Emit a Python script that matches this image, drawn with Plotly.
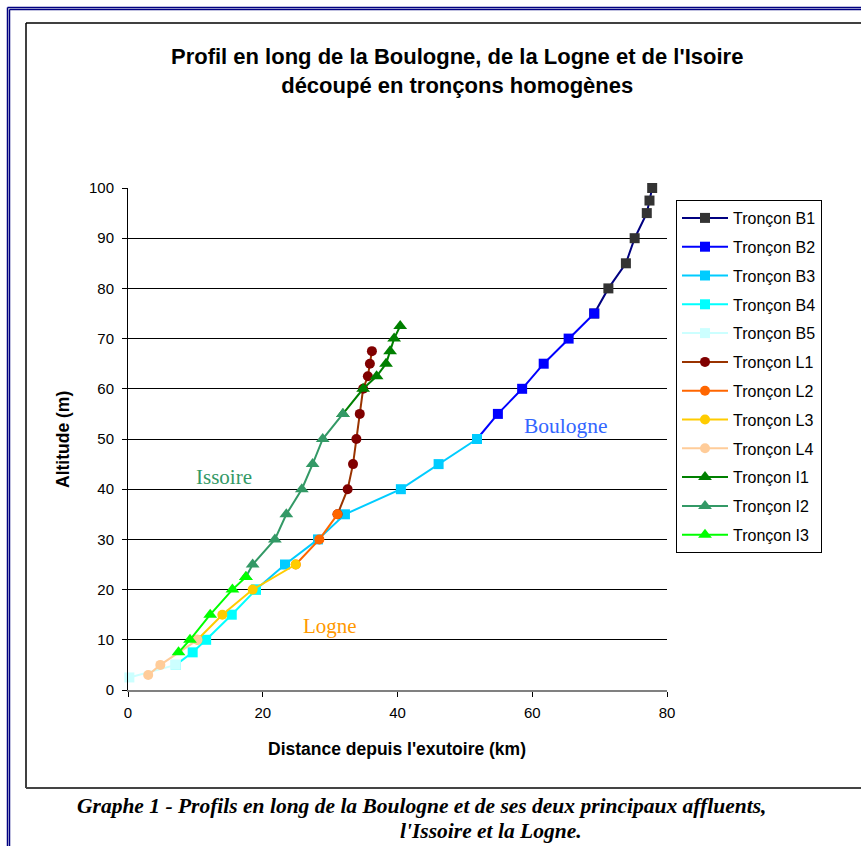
import plotly.graph_objects as go

# ---- data (distance km, altitude m) ----
series_names = ["Tronçon B1", "Tronçon B2", "Tronçon B3", "Tronçon B4", "Tronçon B5",
                "Tronçon L1", "Tronçon L2", "Tronçon L3", "Tronçon L4",
                "Tronçon I1", "Tronçon I2", "Tronçon I3"]

b1_km = [77.8, 77.4, 77.0, 75.2, 73.9, 71.3, 69.2]
b1_alt = [100, 97.5, 95, 90, 85, 80, 75]
b2_km = [69.2, 65.4, 61.7, 58.5, 54.9, 51.8]
b2_alt = [75, 70, 65, 60, 55, 50]
b3_km = [51.8, 46.1, 40.5, 32.2, 28.2, 23.3, 19.0]
b3_alt = [50, 45, 40, 35, 30, 25, 20]
b4_km = [19.0, 15.4, 11.6, 9.6, 7.1]
b4_alt = [20, 15, 10, 7.5, 5]
b5_km = [7.1, 0.2]
b5_alt = [5, 2.5]

l1_km = [36.2, 35.9, 35.6, 34.9, 34.4, 33.9, 33.4, 32.6, 31.1]
l1_alt = [67.5, 65, 62.5, 60, 55, 50, 45, 40, 35]
l2_km = [31.1, 28.4, 24.9]
l2_alt = [35, 30, 25]
l3_km = [24.9, 18.5, 14.0, 10.3]
l3_alt = [25, 20, 15, 10]
l4_km = [10.3, 4.8, 3.0]
l4_alt = [10, 5, 3]

i1_km = [40.4, 39.5, 38.9, 38.3, 36.9, 34.9, 31.9]
i1_alt = [72.5, 70, 67.5, 65, 62.5, 60, 55]
i2_km = [31.9, 28.9, 27.4, 25.8, 23.5, 21.8, 18.5, 17.5]
i2_alt = [55, 50, 45, 40, 35, 30, 25, 22.5]
i3_km = [17.5, 15.5, 12.2, 9.2, 7.5]
i3_alt = [22.5, 20, 15, 10, 7.5]

x_ticks = [0, 20, 40, 60, 80]
y_ticks = [0, 10, 20, 30, 40, 50, 60, 70, 80, 90, 100]

title_text = "Profil en long de la Boulogne, de la Logne et de l'Isoire<br>découpé en tronçons homogènes"
x_title = "Distance depuis l'exutoire (km)"
y_title = "Altitude (m)"
caption1 = "Graphe 1 - Profils en long de la Boulogne et de ses deux principaux affluents,"
caption2 = "l'Issoire et la Logne."

# ---- styles ----
data = [(b1_km, b1_alt), (b2_km, b2_alt), (b3_km, b3_alt), (b4_km, b4_alt), (b5_km, b5_alt),
        (l1_km, l1_alt), (l2_km, l2_alt), (l3_km, l3_alt), (l4_km, l4_alt),
        (i1_km, i1_alt), (i2_km, i2_alt), (i3_km, i3_alt)]
line_colors = ["#000080", "#0000FF", "#00CCFF", "#00FFFF", "#CCFFFF",
               "#993300", "#FF6600", "#FFCC00", "#FFCC99",
               "#008000", "#339966", "#00FF00"]
marker_colors = ["#333333", "#0000FF", "#00CCFF", "#00FFFF", "#CCFFFF",
                 "#800000", "#FF6600", "#FFCC00", "#FFCC99",
                 "#008000", "#339966", "#00FF00"]
symbols = ["square"] * 5 + ["circle"] * 4 + ["triangle-up"] * 3
sizes = [10] * 5 + [10] * 4 + [12] * 3

fig = go.Figure()
for i, (name, (xs, ys)) in enumerate(zip(series_names, data)):
    fig.add_trace(go.Scatter(
        x=xs, y=ys, name=name, mode="lines+markers",
        line=dict(color=line_colors[i], width=2),
        marker=dict(symbol=symbols[i], size=sizes[i], color=marker_colors[i],
                    line=dict(width=0)),
        cliponaxis=False, legendgroup=name,
    ))

W, H = 861, 846
L, R, T, B = 128, 667, 188, 690
pw, ph = R - L, B - T


def px(xp):
    return (xp - L) / pw


def py(yp):
    return (B - yp) / ph


SERIF = "Liberation Serif, Times New Roman, serif"
SANS = "Liberation Sans, Arial, sans-serif"

shapes = []
# outer double blue frame
for off in (7.5, 9.5):
    shapes.append(dict(type="line", xref="paper", yref="paper",
                       x0=px(off), x1=px(W + 5), y0=py(off), y1=py(off),
                       line=dict(color="#000080", width=1.5)))
    shapes.append(dict(type="line", xref="paper", yref="paper",
                       x0=px(off), x1=px(off), y0=py(off), y1=py(H + 5),
                       line=dict(color="#000080", width=1.5)))
# black chart frame
shapes.append(dict(type="line", xref="paper", yref="paper",
                   x0=px(26), x1=px(W + 5), y0=py(23), y1=py(23),
                   line=dict(color="black", width=1.5)))
shapes.append(dict(type="line", xref="paper", yref="paper",
                   x0=px(26), x1=px(26), y0=py(23), y1=py(788),
                   line=dict(color="black", width=1.5)))
shapes.append(dict(type="line", xref="paper", yref="paper",
                   x0=px(26), x1=px(W + 5), y0=py(788), y1=py(788),
                   line=dict(color="#444444", width=2)))


def ann(text, xp, yp, size, color, family, xanchor="center", angle=0):
    return dict(text=text, x=px(xp), y=py(yp), xref="paper", yref="paper",
                xanchor=xanchor, yanchor="middle", showarrow=False, textangle=angle,
                align="center", font=dict(family=family, size=size, color=color))


annotations = [
    ann("Issoire", 224, 477, 21, "#339966", SERIF),
    ann("Boulogne", 566, 426, 21.5, "#3366FF", SERIF),
    ann("Logne", 330, 626, 21, "#FF9900", SERIF),
    ann("<b><i>" + caption1 + "</i></b>", 75, 806, 21.5, "black", SERIF, xanchor="left"),
    ann("<b><i>" + caption2 + "</i></b>", 398, 831, 21.5, "black", SERIF, xanchor="left"),
    ann("<b>" + title_text + "</b>", 457, 71, 22, "black", SANS),
    ann("<b>" + y_title + "</b>", 63, 440, 17.5, "black", SANS, angle=-90),
    ann("<b>" + x_title + "</b>", 397, 749, 17.5, "black", SANS),
]

fig.update_layout(
    width=W, height=H,
    margin=dict(l=L, r=W - R, t=T, b=H - B, pad=0),
    paper_bgcolor="white", plot_bgcolor="white",
    font=dict(family=SANS, size=15, color="black"),
    showlegend=True,
    legend=dict(x=px(676), y=py(200), xanchor="left", yanchor="top",
                bordercolor="black", borderwidth=1, bgcolor="white",
                font=dict(size=16, color="black"), tracegroupgap=5,
                itemwidth=46),
    xaxis=dict(range=[0, 80], tickvals=x_ticks, showgrid=False, zeroline=False,
               showline=True, linecolor="#808080", linewidth=2,
               ticks="outside", ticklen=5, tickcolor="black", ticklabelstandoff=3,
               tickfont=dict(size=15, color="black")),
    yaxis=dict(range=[0, 100], tickvals=y_ticks, showgrid=True, gridcolor="black",
               gridwidth=1, zeroline=False, showline=True, linecolor="black",
               linewidth=1, ticks="outside", ticklen=5, tickcolor="black",
               ticklabelstandoff=5, tickfont=dict(size=15, color="black")),
    shapes=shapes, annotations=annotations,
)

fig.write_html("out.html", config={"displayModeBar": False},
               post_script="document.body.style.margin='0';")
